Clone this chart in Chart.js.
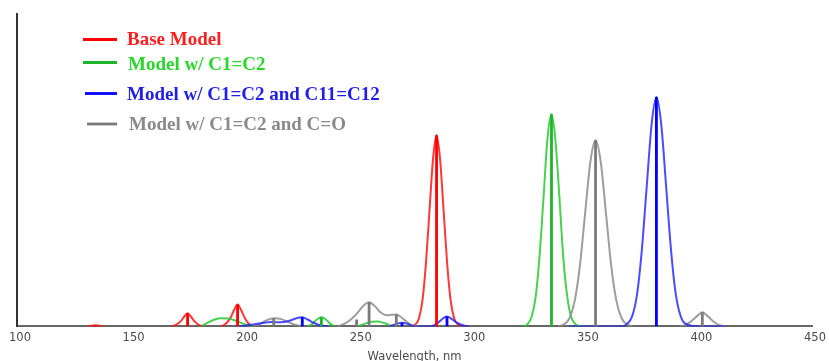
<!DOCTYPE html>
<html>
<head>
<meta charset="utf-8">
<title>Simulated UV-Vis spectra</title>
<script src="https://cdn.jsdelivr.net/npm/chart.js@4.4.1/dist/chart.umd.min.js"></script>
<style>
    html, body { margin: 0; padding: 0; background: #ffffff; overflow: hidden; }
    #wrap { width: 829px; height: 361px; overflow: hidden; }
</style>
</head>
<body>
<div id="wrap"><canvas id="spectrum" width="829" height="363"></canvas></div>
<script>
// Nama seri (urutan legenda)
const seriesNames = [
    'Base Model',
    'Model w/ C1=C2',
    'Model w/ C1=C2 and C11=C12',
    'Model w/ C1=C2 and C=O'
];

// Kurva spektrum (null = putus garis)
const baseX = [131, 134.5, 138, 150, 168, 170, 172, 173.5, 175.1, 176.7, 178.2, 180, 182, 186,
    190, 192, 194, 195.6, 197.1, 198.6, 200.2, 202, 204, 240,
    274, 275.5, 277, 278.5, 280, 281.6, 283.2, 284.7, 286.2, 287.8, 289.4, 290.9, 292.4, 294, 296];
const baseY = [0, 0.4, 0, null, 0, 0.5, 1.6, 3.0, 4.2, 3.0, 1.6, 0.5, 0, null,
    0, 0.9, 2.8, 5.3, 7.0, 5.3, 2.8, 0.9, 0, null,
    0, 0.7, 2.7, 8.3, 19.9, 37.1, 54.0, 61.2, 54.0, 37.1, 19.9, 8.3, 2.7, 0.7, 0];

const c12X = [181, 184, 187, 190, 193, 196, 199, 202, 204, 216,
    228, 230, 232, 234, 236, 238, 240, 245,
    250, 253, 256, 259, 262, 265, 300,
    323, 324.8, 326.5, 328.3, 330, 331.8, 333.5, 335.3, 337, 338.8, 340.5, 342.3, 344, 345.8, 348];
const c12Y = [0, 1.2, 2.2, 2.6, 2.5, 1.9, 1.0, 0.3, 0, null,
    0, 0.8, 2.2, 2.9, 2.2, 0.8, 0, null,
    0, 0.8, 1.5, 1.6, 1.0, 0, null,
    0, 0.75, 3.0, 9.2, 22.0, 41.2, 59.9, 67.9, 59.9, 41.2, 22.0, 9.2, 3.0, 0.75, 0];

const c1112X = [198, 203, 208, 212, 216, 220, 223, 225.6, 228, 231, 234, 237, 250,
    264, 267, 269.5, 272, 275, 278, 282, 284, 286, 288, 289.3, 291, 293, 295, 297, 299, 320,
    343, 366, 368.6, 370.8, 372.9, 375, 377.2, 379.4, 381.5, 383.6, 385.8, 388, 390.1, 392.2, 394.4, 400, 412];
const c1112Y = [0, 0.5, 1.1, 1.4, 1.3, 1.8, 2.6, 2.9, 2.2, 1.0, 0.3, 0, null,
    0, 0.8, 1.2, 0.8, 0, 0, 0, 0.5, 1.6, 2.8, 3.2, 2.6, 1.5, 0.7, 0.2, 0, null,
    0, 0, 0.8, 3.2, 9.9, 23.8, 44.5, 64.8, 73.4, 64.8, 44.5, 23.8, 9.9, 3.2, 0.8, 0, 0];

const coX = [204, 207, 210, 213, 216, 219, 222, 225, 232,
    241, 244, 247, 250, 252.5, 255, 257.5, 260, 262.5, 265, 267, 269, 271, 273, 275, 277, 310,
    338, 340.9, 343.2, 345.5, 347.8, 350.1, 352.4, 354.7, 357, 359.3, 361.6, 363.9, 366.2, 368.5, 371, 380,
    392, 394, 396, 398, 400, 401.7, 403.5, 405.5, 407.5, 409.5, 412];
const coY = [0, 0.8, 2.0, 2.6, 2.4, 1.5, 0.6, 0, null,
    0, 0.8, 2.2, 4.4, 6.6, 7.7, 6.5, 4.5, 3.6, 3.7, 3.8, 3.0, 1.8, 0.7, 0.2, 0, null,
    0, 0.66, 2.6, 8.1, 19.4, 36.1, 52.6, 59.6, 52.6, 36.1, 19.4, 8.1, 2.6, 0.66, 0, null,
    0, 0.4, 1.2, 2.4, 3.7, 4.5, 3.7, 2.3, 1.1, 0.4, 0];

// Garis transisi (stick)
const baseStickX = [134.5, 175.1, 197.1, 284.7];
const baseStickY = [0.4, 4.2, 7.0, 61.2];
const c12StickX = [234, 335.3];
const c12StickY = [2.9, 67.9];
const c1112StickX = [225.6, 269.5, 289.3, 381.5];
const c1112StickY = [2.9, 1.2, 3.2, 73.4];
const coStickX = [213, 249.5, 255, 267, 354.7, 401.7];
const coStickY = [2.6, 2.2, 7.7, 3.8, 59.6, 4.5];

const colors = [
    { curve: 'rgba(255, 20, 20, 0.85)', stick: '#ff0000', text: '#ff1f1f' },
    { curve: 'rgba(40, 200, 50, 0.85)', stick: '#1fb42a', text: '#2ad62a' },
    { curve: 'rgba(30, 30, 255, 0.8)', stick: '#0000ff', text: '#1f1fe6' },
    { curve: 'rgba(140, 140, 140, 0.85)', stick: '#7a7a7a', text: '#8a8a8a' }
];

function toPoints(xs, ys) {
    return xs.map((x, i) => ({ x: x, y: ys[i] }));
}

function toSticks(xs, ys) {
    const pts = [];
    xs.forEach((x, i) => {
        pts.push({ x: x, y: 0 }, { x: x, y: ys[i] }, { x: x, y: null });
    });
    return pts;
}

const curves = [[baseX, baseY], [c12X, c12Y], [c1112X, c1112Y], [coX, coY]];
const sticks = [[baseStickX, baseStickY], [c12StickX, c12StickY], [c1112StickX, c1112StickY], [coStickX, coStickY]];

// blue di atas sepanjang baseline, jadi urutan gambar diatur lewat 'order'
const curveOrder = [5, 4, 2, 3];

const datasets = [];
curves.forEach((c, i) => {
    datasets.push({
        label: seriesNames[i],
        data: toPoints(c[0], c[1]),
        borderColor: colors[i].curve,
        borderWidth: 2,
        pointRadius: 0,
        cubicInterpolationMode: 'monotone',
        spanGaps: false,
        order: curveOrder[i]
    });
});
sticks.forEach((s, i) => {
    datasets.push({
        label: seriesNames[i] + ' (stick)',
        data: toSticks(s[0], s[1]),
        borderColor: colors[i].stick,
        borderWidth: 2.8,
        pointRadius: 0,
        tension: 0,
        spanGaps: false,
        order: 1
    });
});

// Legenda di dalam area plot, seperti gambar asli
const legendRows = [
    { x0: 83, lineY: 39.5, textX: 127, baseY: 45 },
    { x0: 83, lineY: 62.5, textX: 128, baseY: 70 },
    { x0: 85, lineY: 93.5, textX: 127, baseY: 100 },
    { x0: 87, lineY: 124, textX: 129, baseY: 130 }
];

const inlineLegend = {
    id: 'inlineLegend',
    afterDatasetsDraw(chart) {
        const ctx = chart.ctx;
        ctx.save();
        ctx.font = 'bold 19px "Liberation Serif", "Times New Roman", serif';
        ctx.textBaseline = 'alphabetic';
        ctx.textAlign = 'left';
        seriesNames.forEach((name, i) => {
            const row = legendRows[i];
            ctx.strokeStyle = colors[i].stick;
            ctx.lineWidth = 2.8;
            ctx.beginPath();
            ctx.moveTo(row.x0, row.lineY);
            ctx.lineTo(117, row.lineY);
            ctx.stroke();
            ctx.fillStyle = colors[i].text;
            ctx.fillText(name, row.textX, row.baseY);
        });
        ctx.restore();
    }
};

const tickFont = { family: '"DejaVu Sans", Verdana, sans-serif', size: 11.5, lineHeight: 1 };

new Chart(document.getElementById('spectrum'), {
    type: 'line',
    data: { datasets: datasets },
    options: {
        responsive: false,
        animation: false,
        layout: { padding: { left: 17, right: 15, top: 14, bottom: 0 } },
        plugins: {
            legend: { display: false },
            tooltip: { enabled: false }
        },
        scales: {
            x: {
                type: 'linear',
                min: 100,
                max: 450,
                grid: { display: false, drawTicks: false },
                border: { display: true, color: '#666666', width: 2 },
                ticks: {
                    stepSize: 50,
                    padding: 6,
                    labelOffset: 3,
                    color: '#4a4a4a',
                    font: tickFont,
                    maxRotation: 0
                },
                title: {
                    display: true,
                    text: 'Wavelength, nm',
                    color: '#4a4a4a',
                    font: tickFont,
                    padding: { top: 1.6, bottom: 0 }
                }
            },
            y: {
                min: 0,
                max: 100,
                grid: { display: false, drawTicks: false },
                border: { display: true, color: '#333333', width: 2 },
                ticks: { display: false }
            }
        }
    },
    plugins: [inlineLegend]
});
</script>
</body>
</html>
